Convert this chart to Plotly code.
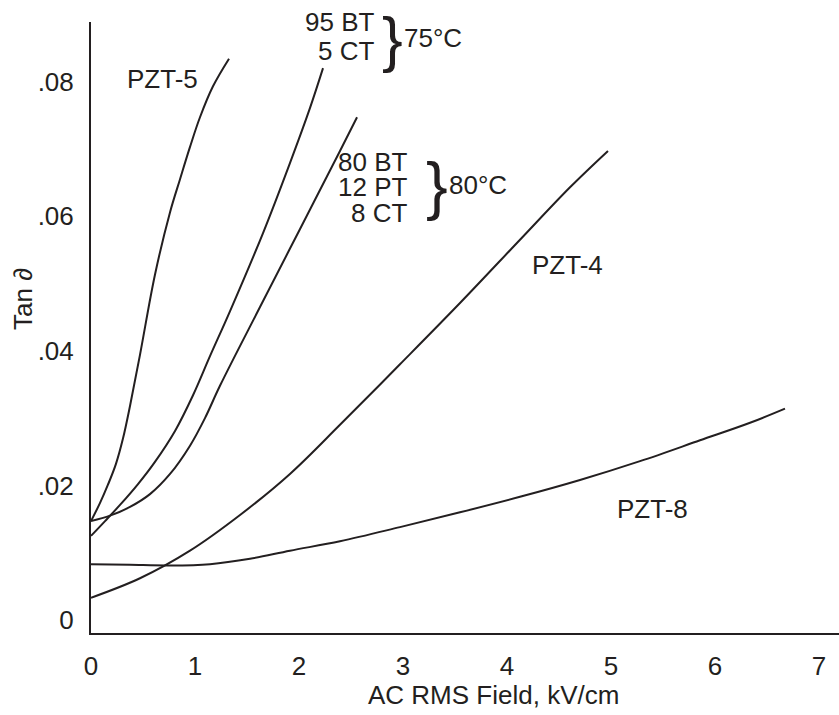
import plotly.graph_objects as go

# ---------------- data ----------------
pzt5_x = [0, 0.087, 0.163, 0.240, 0.308, 0.375, 0.471, 0.615, 0.760, 0.856, 0.952, 1.048, 1.173, 1.327]
pzt5_y = [0.0147, 0.0174, 0.0201, 0.0232, 0.0270, 0.0318, 0.0394, 0.0513, 0.0606, 0.0655, 0.0703, 0.0747, 0.0793, 0.0834]

bt95_x = [0, 0.135, 0.279, 0.452, 0.615, 0.808, 0.981, 1.144, 1.337, 1.654, 1.913, 2.106, 2.231]
bt95_y = [0.0125, 0.0147, 0.0171, 0.0202, 0.0235, 0.0281, 0.0334, 0.0392, 0.0459, 0.0575, 0.0679, 0.0761, 0.0820]

bt80_x = [0, 0.183, 0.375, 0.567, 0.760, 0.952, 1.096, 1.240, 1.625, 2.010, 2.394, 2.558]
bt80_y = [0.0147, 0.0155, 0.0168, 0.0187, 0.0217, 0.0259, 0.0300, 0.0348, 0.0465, 0.0581, 0.0697, 0.0747]

pzt4_x = [0, 0.471, 0.952, 1.433, 1.913, 2.394, 2.971, 3.548, 4.125, 4.606, 4.971]
pzt4_y = [0.0033, 0.0062, 0.0103, 0.0156, 0.0217, 0.0290, 0.0380, 0.0471, 0.0565, 0.0643, 0.0697]

pzt8_x = [0, 0.375, 0.760, 1.144, 1.529, 1.913, 2.394, 2.971, 3.548, 4.125, 4.702, 5.279, 5.856, 6.337, 6.673]
pzt8_y = [0.0083, 0.0082, 0.0081, 0.0083, 0.0091, 0.0103, 0.0117, 0.0138, 0.0160, 0.0183, 0.0208, 0.0236, 0.0267, 0.0293, 0.0314]

x_tickvals = [0, 1, 2, 3, 4, 5, 6, 7]
x_ticktext = ["0", "1", "2", "3", "4", "5", "6", "7"]
y_tickvals = [0, 0.02, 0.04, 0.06, 0.08]
y_ticktext = ["0", ".02", ".04", ".06", ".08"]

x_title = "AC RMS Field, kV/cm"
y_title = "Tan \u2202"

# ---------------- figure ----------------
INK = "#231f20"
FONT = "Liberation Sans, Arial, sans-serif"
FS = 26
W, H = 839, 715
L, R, T, B = 91, 0, 22, 82
PW, PH = W - L - R, H - T - B

fig = go.Figure()
for xs, ys in [(pzt5_x, pzt5_y), (bt95_x, bt95_y), (bt80_x, bt80_y),
               (pzt4_x, pzt4_y), (pzt8_x, pzt8_y)]:
    fig.add_trace(go.Scatter(x=xs, y=ys, mode="lines",
                             line=dict(color=INK, width=2, shape="spline", smoothing=1),
                             hoverinfo="skip", showlegend=False))


def px(xpix, ypix):
    return (xpix - L) / PW, (H - B - ypix) / PH


def note(text, xpix, ypix, size=FS, xanchor="center", **kw):
    xp, yp = px(xpix, ypix)
    fig.add_annotation(text=text, x=xp, y=yp, xref="paper", yref="paper",
                       xanchor=xanchor, yanchor="middle", showarrow=False,
                       font=dict(size=size, color=INK, family=FONT), **kw)


note("PZT-5", 162, 79)
note("95 BT", 376, 22, xanchor="right")
note("5 CT", 376, 51, xanchor="right")
note("}", 392, 38, size=62)
note("75\u00b0C", 402, 38, xanchor="left")
note("80 BT", 409, 162, xanchor="right")
note("12 PT", 409, 187, xanchor="right")
note("8 CT", 409, 213, xanchor="right")
note("}", 437, 185, size=65)
note("80\u00b0C", 447, 185, xanchor="left")
note("PZT-4", 567, 265)
note("PZT-8", 652, 509)
note(x_title, 493, 695)
note(y_title, 23, 299, textangle=-90)

axis_common = dict(showgrid=False, zeroline=False, showline=True, linecolor=INK,
                   linewidth=2, ticks="", tickfont=dict(size=FS, color=INK, family=FONT))

fig.update_layout(
    width=W, height=H,
    margin=dict(l=L, r=R, t=T, b=B, pad=0),
    paper_bgcolor="white", plot_bgcolor="white",
    xaxis=dict(range=[0, PW / 104], tickvals=x_tickvals, ticktext=x_ticktext,
               ticklabelstandoff=9, **axis_common),
    yaxis=dict(range=[-13 / 6730, 598 / 6730], tickvals=y_tickvals, ticktext=y_ticktext,
               ticklabelstandoff=10, **axis_common),
)

fig.write_html("out.html")
